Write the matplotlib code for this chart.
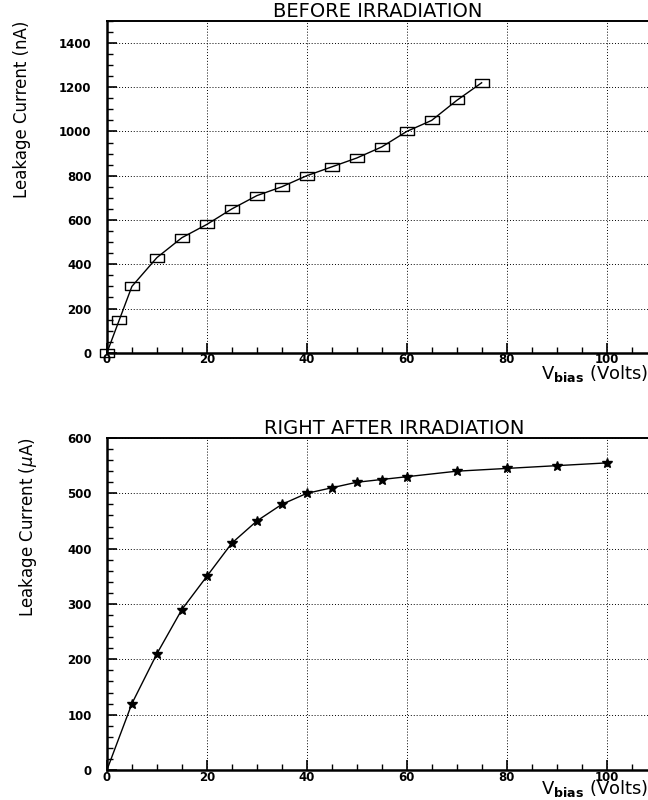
import matplotlib
matplotlib.use("Agg")
import matplotlib.pyplot as plt
from matplotlib.path import Path
from matplotlib.ticker import MultipleLocator

# Before irradiation (nA)
v_before = [0, 2.5, 5, 10, 15, 20, 25, 30, 35, 40, 45, 50, 55, 60, 65, 70, 75]
i_before = [0, 150, 300, 430, 520, 580, 650, 710, 750, 800, 840, 880, 930, 1000, 1050, 1140, 1220]

# Right after irradiation (uA)
v_after = [0, 5, 10, 15, 20, 25, 30, 35, 40, 45, 50, 55, 60, 70, 80, 90, 100]
i_after = [0, 120, 210, 290, 350, 410, 450, 480, 500, 510, 520, 525, 530, 540, 545, 550, 555]

# flat rectangle marker like the PAW plot
rect = Path([(-1, -0.6), (1, -0.6), (1, 0.6), (-1, 0.6), (-1, -0.6)],
            [Path.MOVETO, Path.LINETO, Path.LINETO, Path.LINETO, Path.CLOSEPOLY])

fig = plt.figure(figsize=(6.48, 8), dpi=100)
ax1 = fig.add_axes([0.165, 0.559, 0.835, 0.415])
ax2 = fig.add_axes([0.165, 0.0375, 0.835, 0.415])


def style(ax, ymax, ymaj, ymin, ylabel, title, title_x, xlab_y):
    ax.set_xlim(0, 108.3)
    ax.set_ylim(0, ymax)
    ax.xaxis.set_major_locator(MultipleLocator(20))
    ax.xaxis.set_minor_locator(MultipleLocator(5))
    ax.yaxis.set_major_locator(MultipleLocator(ymaj))
    ax.yaxis.set_minor_locator(MultipleLocator(ymin))
    ax.tick_params(which="both", direction="in", top=False, right=False)
    ax.tick_params(which="major", length=7, width=1.2, labelsize=8.5)
    ax.tick_params(which="minor", length=4, width=1.0)
    ax.tick_params(axis="x", pad=0.5)
    ax.tick_params(axis="y", pad=11)
    for lab in ax.get_xticklabels() + ax.get_yticklabels():
        lab.set_fontweight("bold")
    ax.grid(True, which="major", linestyle=(0, (1, 2)), color="black", linewidth=0.7)
    ax.spines["right"].set_visible(False)
    ax.spines["left"].set_linewidth(1.8)
    ax.spines["bottom"].set_linewidth(1.8)
    ax.spines["top"].set_linewidth(1.4)
    ax.set_title(title, fontsize=14, pad=3, x=title_x)
    ax.set_ylabel(ylabel, fontsize=12, loc="top", labelpad=20)
    ax.text(1.0, xlab_y, r"V$_{\mathbf{bias}}$ (Volts)", transform=ax.transAxes,
            ha="right", va="baseline", fontsize=13)


ax1.plot(v_before, i_before, color="black", linewidth=1.0,
         marker=rect, markersize=10, markerfacecolor="none",
         markeredgecolor="black", markeredgewidth=1.0, clip_on=False)
style(ax1, 1500, 200, 50, "Leakage Current (nA)", "BEFORE IRRADIATION", 0.5, -0.08)

ax2.plot(v_after, i_after, color="black", linewidth=1.0,
         marker="*", markersize=7, markevery=list(range(1, len(v_after))),
         markerfacecolor="black", markeredgecolor="black")
style(ax2, 600, 100, 20, r"Leakage Current ($\mu$A)", "RIGHT AFTER IRRADIATION", 0.53, -0.072)

fig.savefig("out.png", dpi=100)
